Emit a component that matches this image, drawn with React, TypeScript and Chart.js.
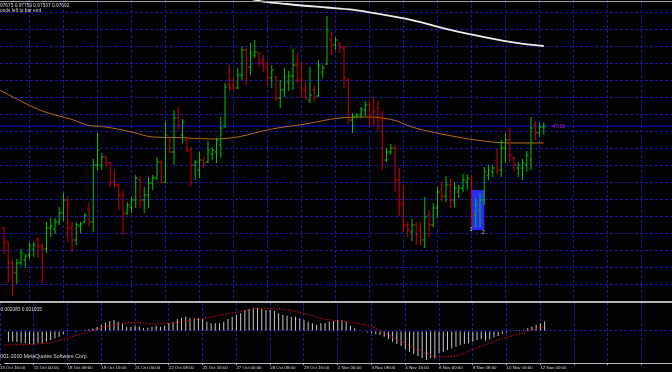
import React, { useEffect, useRef } from 'react';
import { Chart, registerables } from 'chart.js';

Chart.register(...registerables);

// ---------------- data (H4 bars, index 0 = 15 Oct 00:00) ----------------
const FIRST_BAR = -6;

const OPEN = [
  0.95894, 0.95647, 0.95276, 0.95099, 0.95276, 0.95329, 0.95417, 0.95523, 0.95682, 0.95576,
  0.95523, 0.95894, 0.95876, 0.96000, 0.96158, 0.96388, 0.95894, 0.95682, 0.95929, 0.96000,
  0.96211, 0.96000, 0.97005, 0.97005, 0.97146, 0.97040, 0.96722, 0.96652, 0.96476, 0.96158,
  0.96264, 0.96388, 0.96740, 0.96388, 0.96476, 0.96687, 0.96776, 0.97058, 0.96705, 0.97482,
  0.97235, 0.97835, 0.97535, 0.97446, 0.97270, 0.97005, 0.96917, 0.97093, 0.97058, 0.97199,
  0.97235, 0.97358, 0.97693, 0.98417, 0.98417, 0.98364, 0.98594, 0.99035, 0.98734, 0.98947,
  0.98982, 0.98858, 0.98734, 0.98541, 0.98558, 0.98188, 0.98329, 0.98470, 0.98576, 0.98770,
  0.98505, 0.98329, 0.98152, 0.98329, 0.98223, 0.98647, 0.98787, 0.99211, 0.99123, 0.99140,
  0.99070, 0.98505, 0.97799, 0.97852, 0.97888, 0.97976, 0.98064, 0.97976, 0.98011, 0.97835,
  0.97093, 0.97235, 0.97305, 0.96740, 0.96300, 0.95947, 0.95823, 0.95947, 0.95858, 0.95682,
  0.96123, 0.95947, 0.96247, 0.96564, 0.96458, 0.96652, 0.96388, 0.96529, 0.96599, 0.96705,
  0.96740, 0.96123, 0.96211, 0.96388, 0.96829, 0.96882, 0.97093, 0.96917, 0.97305, 0.97446,
  0.97129, 0.96952, 0.96952, 0.97005, 0.97093, 0.97711, 0.97570, 0.97675,
];
const HIGH = [
  0.95911, 0.95647, 0.95329, 0.95346, 0.95523, 0.95434, 0.95647, 0.95647, 0.95734, 0.95629,
  0.96000, 0.96070, 0.96070, 0.96264, 0.96511, 0.96458, 0.96000, 0.96000, 0.96000, 0.96158,
  0.96335, 0.97111, 0.97570, 0.97217, 0.97182, 0.97058, 0.96917, 0.96687, 0.96546, 0.96353,
  0.96440, 0.96829, 0.96811, 0.96616, 0.96793, 0.96829, 0.97146, 0.97093, 0.97764, 0.97499,
  0.97976, 0.98028, 0.97817, 0.97499, 0.97322, 0.97093, 0.97235, 0.97146, 0.97428, 0.97322,
  0.97482, 0.97852, 0.98452, 0.98770, 0.98558, 0.98717, 0.99087, 0.99070, 0.99158, 0.99211,
  0.99000, 0.98947, 0.98858, 0.98770, 0.98576, 0.98505, 0.98717, 0.98664, 0.99052, 0.98982,
  0.98823, 0.98470, 0.98734, 0.98417, 0.98858, 0.98770, 0.99635, 0.99353, 0.99264, 0.99176,
  0.99105, 0.98541, 0.97923, 0.97923, 0.98028, 0.98134, 0.98152, 0.98205, 0.98134, 0.97958,
  0.97305, 0.97375, 0.97358, 0.96952, 0.96652, 0.96000, 0.96052, 0.96000, 0.96000, 0.96440,
  0.96211, 0.96335, 0.96616, 0.96705, 0.96811, 0.96758, 0.96705, 0.96652, 0.96846, 0.96846,
  0.96829, 0.96423, 0.96511, 0.96969, 0.97005, 0.97005, 0.97287, 0.97446, 0.97570, 0.97658,
  0.97146, 0.97058, 0.97111, 0.97252, 0.97852, 0.97781, 0.97746, 0.97759,
];
const LOW = [
  0.95434, 0.94923, 0.94693, 0.94905, 0.95223, 0.95188, 0.95346, 0.95381, 0.95364, 0.94923,
  0.95452, 0.95734, 0.95787, 0.95947, 0.96017, 0.95647, 0.95470, 0.95594, 0.95805, 0.95982,
  0.95911, 0.95823, 0.96917, 0.96917, 0.96969, 0.96616, 0.96616, 0.96211, 0.95770, 0.96123,
  0.96158, 0.96247, 0.96247, 0.96158, 0.96247, 0.96564, 0.96740, 0.96687, 0.96687, 0.97217,
  0.97005, 0.97623, 0.97393, 0.97235, 0.96634, 0.96740, 0.96776, 0.96952, 0.97040, 0.97093,
  0.97040, 0.97129, 0.97658, 0.98294, 0.98329, 0.98346, 0.98505, 0.98417, 0.98594, 0.98894,
  0.98734, 0.98647, 0.98417, 0.98364, 0.98134, 0.98011, 0.98205, 0.98311, 0.98329, 0.98452,
  0.98188, 0.98152, 0.98099, 0.98117, 0.98205, 0.98541, 0.98770, 0.98947, 0.99035, 0.98982,
  0.98364, 0.97728, 0.97570, 0.97835, 0.97835, 0.97870, 0.97693, 0.97675, 0.97605, 0.96917,
  0.97058, 0.97182, 0.96529, 0.96105, 0.95823, 0.95734, 0.95664, 0.95594, 0.95594, 0.95541,
  0.95734, 0.95911, 0.96070, 0.96353, 0.96353, 0.96247, 0.96264, 0.96423, 0.96529, 0.96564,
  0.95894, 0.95911, 0.95911, 0.96300, 0.96740, 0.96793, 0.96829, 0.96793, 0.97040, 0.97058,
  0.96899, 0.96793, 0.96740, 0.96882, 0.96917, 0.97446, 0.97499, 0.97537,
];
const CLOSE = [
  0.95647, 0.95276, 0.95099, 0.95276, 0.95452, 0.95399, 0.95576, 0.95594, 0.95558, 0.95523,
  0.95894, 0.95929, 0.96000, 0.96158, 0.96388, 0.95894, 0.95682, 0.95947, 0.95964, 0.96123,
  0.96000, 0.97005, 0.97270, 0.97146, 0.97040, 0.96687, 0.96652, 0.96476, 0.96158, 0.96300,
  0.96388, 0.96776, 0.96388, 0.96476, 0.96687, 0.96776, 0.97058, 0.96705, 0.97535, 0.97235,
  0.97835, 0.97711, 0.97764, 0.97270, 0.97005, 0.97058, 0.97093, 0.97040, 0.97270, 0.97270,
  0.97446, 0.97658, 0.98381, 0.98364, 0.98364, 0.98594, 0.99035, 0.98734, 0.98982, 0.99000,
  0.98805, 0.98734, 0.98558, 0.98682, 0.98188, 0.98329, 0.98558, 0.98576, 0.98770, 0.98505,
  0.98329, 0.98188, 0.98241, 0.98205, 0.98770, 0.98717, 0.99388, 0.99123, 0.99211, 0.99087,
  0.98541, 0.97799, 0.97852, 0.97888, 0.97993, 0.98064, 0.97888, 0.97941, 0.97799, 0.97093,
  0.97235, 0.97305, 0.96740, 0.96300, 0.95947, 0.95858, 0.95947, 0.95770, 0.95682, 0.96087,
  0.95947, 0.96247, 0.96529, 0.96458, 0.96652, 0.96388, 0.96599, 0.96599, 0.96740, 0.96776,
  0.96123, 0.96300, 0.96388, 0.96882, 0.96917, 0.96952, 0.96917, 0.97305, 0.97446, 0.97182,
  0.97005, 0.97005, 0.97040, 0.97182, 0.97658, 0.97570, 0.97675, 0.97692,
];

// MACD main (histogram) per bar
const MACD_MAIN = [
  -0.00240, -0.00235, -0.00246, -0.00269, -0.00269, -0.00297, -0.00291, -0.00275, -0.00275, -0.00240,
  -0.00202, -0.00164, -0.00129, -0.00075, -0.00024, -0.00013, -0.00002, 0.00009, 0.00020, 0.00031,
  0.00053, 0.00087, 0.00131, 0.00182, 0.00220, 0.00242, 0.00204, 0.00147, 0.00093, 0.00093,
  0.00115, 0.00093, 0.00058, 0.00071, 0.00093, 0.00115, 0.00093, 0.00115, 0.00169, 0.00204,
  0.00264, 0.00293, 0.00315, 0.00293, 0.00280, 0.00280, 0.00264, 0.00204, 0.00169, 0.00169,
  0.00169, 0.00204, 0.00264, 0.00315, 0.00353, 0.00391, 0.00464, 0.00486, 0.00515, 0.00502,
  0.00486, 0.00464, 0.00464, 0.00442, 0.00391, 0.00353, 0.00337, 0.00315, 0.00315, 0.00280,
  0.00242, 0.00204, 0.00169, 0.00131, 0.00169, 0.00169, 0.00204, 0.00220, 0.00242, 0.00242,
  0.00204, 0.00115, 0.00058, 0.00009, -0.00009, -0.00036, -0.00053, -0.00069, -0.00091, -0.00129,
  -0.00186, -0.00240, -0.00291, -0.00335, -0.00408, -0.00462, -0.00513, -0.00557, -0.00608, -0.00646,
  -0.00608, -0.00608, -0.00497, -0.00462, -0.00424, -0.00386, -0.00351, -0.00313, -0.00291, -0.00275,
  -0.00240, -0.00202, -0.00186, -0.00218, -0.00186, -0.00142, -0.00113, -0.00069, -0.00040, -0.00018,
  0.00004, 0.00020, 0.00027, 0.00058, 0.00093, 0.00131, 0.00169, 0.002083,
];
// MACD signal line, read at sample bars
const SIGNAL_IDX = [-7, 1, 5, 9, 13, 17, 21, 24, 28, 32, 36, 40, 44, 48, 52, 56, 60, 64, 68, 72, 76, 80, 84, 88, 92, 96, 100, 104, 108, 112, 116, 119, 121];
const SIGNAL_VAL = [
  -0.00313, -0.00291, -0.00240, -0.00129, -0.00018, 0.00093, 0.00169, 0.00191, 0.00153, 0.00169,
  0.00220, 0.00270, 0.00346, 0.00413, 0.00486, 0.00502, 0.00464, 0.00391, 0.00280, 0.00226,
  0.00182, 0.00093, -0.00091, -0.00275, -0.00462, -0.00573, -0.00557, -0.00408, -0.00275, -0.00142,
  -0.00040, 0.00050, 0.001005,
];

// moving averages, read at sample bars
const MA_FAST_IDX = [-7, -3, 3, 10, 14, 17, 24, 29, 34, 43, 49, 53, 57, 65, 73, 80, 86, 90, 97, 105, 113, 121];
const MA_FAST_VAL = [
  0.98329, 0.98170, 0.97958, 0.97808, 0.97702, 0.97685, 0.97588, 0.97499, 0.97491, 0.97464,
  0.97499, 0.97570, 0.97641, 0.97729, 0.97835, 0.97852, 0.97791, 0.97676, 0.97552, 0.97447,
  0.97394, 0.97394,
];
const MA_SLOW_IDX = [48, 55, 59, 64, 70, 76, 80, 90, 99, 107, 115, 121];
const MA_SLOW_VAL = [1.00023, 0.99887, 0.99859, 0.99820, 0.99785, 0.99746, 0.99700, 0.99564, 0.99388, 0.99261, 0.99155, 0.99105];

const TIME_TICKS = [-8, 0, 8, 16, 24, 32, 40, 48, 56, 64, 72, 80, 88, 96, 104, 112, 120, 128, 136, 144];
const TIME_LABELS = [
  '13 Oct 16:00', '15 Oct 00:00', '18 Oct 08:00', '19 Oct 16:00', '21 Oct 00:00', '22 Oct 08:00',
  '25 Oct 16:00', '27 Oct 00:00', '28 Oct 08:00', '29 Oct 16:00', '2 Nov 00:00', '3 Nov 08:00',
  '4 Nov 16:00', '8 Nov 00:00', '9 Nov 08:00', '10 Nov 16:00', '12 Nov 00:00',
];
const PRICE_GRID = [0.997, 0.994, 0.991, 0.988, 0.985, 0.982, 0.979, 0.976, 0.973, 0.970, 0.967, 0.964, 0.961, 0.958, 0.955, 0.952, 0.949];
const MACD_GRID = [0];

const ZONE_IDX = [104, 107];
const ZONE_PRICE = [0.96564, 0.95858];
const ZONE_TAGS = ['1', '2'];
const COUNTDOWN = '47:16';
const COUNTDOWN_IDX = 123;
const TIMER_CAPTION = 'Seconds left to bar end';
const COPYRIGHT = '2001-2010 MetaQuotes Software Corp.';

// ---------------- view ----------------
const X_MIN = -6.94118;
const X_MAX = 151.17647;
const P_MAX = 0.999171;
const P_MIN = 0.946053;
const M_MAX = 0.0062;
const M_MIN = -0.00713;

const BG = '#020205';
const GRID = '#1818a0';
const UP = '#00c400';
const DOWN = '#d00000';
const FONT = '"Liberation Sans", Arial, sans-serif';
const TEXT = '#d8d8d8';
const AXIS_GRAY = '#b4b4b4';

export default function App() {
  const mainRef = useRef<HTMLCanvasElement | null>(null);
  const subRef = useRef<HTMLCanvasElement | null>(null);

  useEffect(() => {
    document.body.style.margin = '0';
    document.body.style.background = BG;
    const last = CLOSE.length - 1;
    const barIdx = (i: number) => FIRST_BAR + i;
    const colors = CLOSE.map((c, i) => (c >= OPEN[i] ? UP : DOWN));
    const pxPerBar = 672 / (X_MAX - X_MIN);
    const tickShift = 1 / pxPerBar;

    const zonePlugin = {
      id: 'zone',
      beforeDatasetsDraw(chart: any) {
        const { ctx, scales } = chart;
        const x0 = scales.x.getPixelForValue(ZONE_IDX[0]);
        const x1 = scales.x.getPixelForValue(ZONE_IDX[1]);
        const y0 = scales.y.getPixelForValue(ZONE_PRICE[0]);
        const y1 = scales.y.getPixelForValue(ZONE_PRICE[1]);
        ctx.save();
        ctx.fillStyle = '#2a2aff';
        ctx.fillRect(x0, y0, x1 - x0, y1 - y0);
        ctx.restore();
      },
    };

    const mainText = {
      id: 'mainText',
      afterDraw(chart: any) {
        const { ctx, scales } = chart;
        ctx.save();
        ctx.textBaseline = 'middle';
        ctx.textAlign = 'left';
        ctx.fillStyle = TEXT;
        ctx.font = `4.8px ${FONT}`;
        const head = [OPEN[last], HIGH[last], LOW[last], CLOSE[last]].map((v) => v.toFixed(5)).join(' ');
        ctx.fillText(head, -ctx.measureText('0.').width, 5.3);
        ctx.fillText(TIMER_CAPTION, -ctx.measureText('Sec').width, 10.9);
        ctx.font = `5.2px ${FONT}`;
        ctx.fillStyle = '#c020c0';
        ctx.fillText(COUNTDOWN, scales.x.getPixelForValue(COUNTDOWN_IDX), scales.y.getPixelForValue(CLOSE[last]));
        ctx.font = `5.5px ${FONT}`;
        ctx.fillStyle = '#c8c8c8';
        ctx.textAlign = 'center';
        const yb = scales.y.getPixelForValue(ZONE_PRICE[1]);
        ctx.fillText(ZONE_TAGS[0], scales.x.getPixelForValue(ZONE_IDX[0]) - 0.5, yb - 1);
        ctx.fillText(ZONE_TAGS[1], scales.x.getPixelForValue(ZONE_IDX[1]) - 1, yb + 2.5);
        ctx.restore();
      },
    };

    const subText = {
      id: 'subText',
      afterDraw(chart: any) {
        const { ctx } = chart;
        ctx.save();
        ctx.textBaseline = 'middle';
        ctx.textAlign = 'left';
        ctx.fillStyle = TEXT;
        ctx.font = `4.8px ${FONT}`;
        ctx.fillText(`${MACD_MAIN[last].toFixed(6)} ${SIGNAL_VAL[SIGNAL_VAL.length - 1].toFixed(6)}`, 0.5, 6.3);
        ctx.font = `5.2px ${FONT}`;
        ctx.fillText(COPYRIGHT, -ctx.measureText('2').width + 0.3, 53.3);
        ctx.restore();
      },
    };

    const hiddenAxis = (min: number, max: number, grid: number[], horiz: boolean) => ({
      type: 'linear',
      min,
      max,
      offset: false,
      afterBuildTicks: (s: any) => {
        s.ticks = grid.map((v) => ({ value: v }));
      },
      afterFit: (s: any) => {
        if (horiz) s.height = 0;
        else s.width = 0;
      },
      ticks: { display: false },
      grid: { color: GRID, lineWidth: 1, drawTicks: false, offset: false },
      border: { display: false, dash: [3, 2] },
    });

    const main = new Chart(mainRef.current as HTMLCanvasElement, {
      type: 'bar',
      data: {
        datasets: [
          {
            type: 'bar',
            data: OPEN.map((_, i) => ({ x: barIdx(i), y: [LOW[i], HIGH[i]] })),
            backgroundColor: colors,
            borderWidth: 0,
            barThickness: 1,
            inflateAmount: 0,
            grouped: false,
            order: 1,
          } as any,
          {
            type: 'scatter',
            data: OPEN.map((o, i) => ({ x: barIdx(i) - tickShift, y: o })),
            pointStyle: 'line',
            pointRadius: 1,
            pointBorderWidth: 1,
            pointBorderColor: colors,
            order: 0,
          } as any,
          {
            type: 'scatter',
            data: CLOSE.map((c, i) => ({ x: barIdx(i) + tickShift, y: c })),
            pointStyle: 'line',
            pointRadius: 1,
            pointBorderWidth: 1,
            pointBorderColor: colors,
            order: 0,
          } as any,
          {
            type: 'line',
            data: MA_SLOW_IDX.map((x, i) => ({ x, y: MA_SLOW_VAL[i] })),
            borderColor: '#ececec',
            borderWidth: 1.8,
            pointRadius: 0,
            cubicInterpolationMode: 'monotone',
            order: 3,
          } as any,
          {
            type: 'line',
            data: MA_FAST_IDX.map((x, i) => ({ x, y: MA_FAST_VAL[i] })),
            borderColor: '#b06c12',
            borderWidth: 1,
            pointRadius: 0,
            cubicInterpolationMode: 'monotone',
            order: 3,
          } as any,
          {
            type: 'line',
            data: [
              { x: X_MIN, y: CLOSE[last] },
              { x: X_MAX, y: CLOSE[last] },
            ],
            borderColor: '#0c0cd0',
            borderWidth: 1,
            pointRadius: 0,
            order: 4,
          } as any,
        ],
      },
      options: {
        animation: false,
        responsive: false,
        devicePixelRatio: 1,
        events: [],
        layout: { padding: 0, autoPadding: false },
        plugins: { legend: { display: false }, tooltip: { enabled: false } },
        scales: {
          x: hiddenAxis(X_MIN, X_MAX, TIME_TICKS, true),
          y: hiddenAxis(P_MIN, P_MAX, PRICE_GRID, false),
        } as any,
      },
      plugins: [zonePlugin, mainText],
    });

    const sub = new Chart(subRef.current as HTMLCanvasElement, {
      type: 'bar',
      data: {
        datasets: [
          {
            type: 'bar',
            data: MACD_MAIN.map((v, i) => ({ x: barIdx(i), y: v })),
            backgroundColor: '#c6c6c6',
            borderWidth: 0,
            barThickness: 1,
            inflateAmount: 0,
            grouped: false,
            order: 1,
          } as any,
          {
            type: 'line',
            data: SIGNAL_IDX.map((x, i) => ({ x, y: SIGNAL_VAL[i] })),
            borderColor: '#d01010',
            borderWidth: 1,
            borderDash: [1.5, 1.5],
            pointRadius: 0,
            cubicInterpolationMode: 'monotone',
            order: 0,
          } as any,
        ],
      },
      options: {
        animation: false,
        responsive: false,
        devicePixelRatio: 1,
        events: [],
        layout: { padding: 0, autoPadding: false },
        plugins: { legend: { display: false }, tooltip: { enabled: false } },
        scales: {
          x: {
            type: 'linear',
            min: X_MIN,
            max: X_MAX,
            offset: false,
            afterBuildTicks: (s: any) => {
              s.ticks = TIME_TICKS.map((v) => ({ value: v }));
            },
            afterFit: (s: any) => {
              s.height = 9;
            },
            ticks: {
              display: true,
              autoSkip: false,
              maxRotation: 0,
              minRotation: 0,
              align: 'start',
              padding: 0,
              color: TEXT,
              font: { family: FONT, size: 4.4 },
              callback: (v: any) => {
                const k = TIME_TICKS.indexOf(Number(v));
                return k >= 0 && k < TIME_LABELS.length ? TIME_LABELS[k] : '';
              },
            },
            grid: {
              color: GRID,
              lineWidth: 1,
              drawTicks: true,
              tickLength: 2,
              tickColor: AXIS_GRAY,
              tickBorderDash: [],
              offset: false,
            },
            border: { display: true, color: AXIS_GRAY, width: 1, dash: [3, 2] },
          },
          y: hiddenAxis(M_MIN, M_MAX, MACD_GRID, false),
        } as any,
      },
      plugins: [subText],
    });

    return () => {
      main.destroy();
      sub.destroy();
    };
  }, []);

  return (
    <div style={{ position: 'absolute', left: 0, top: 0, width: 672, height: 372, background: BG, overflow: 'hidden' }}>
      <canvas ref={mainRef} width={672} height={301} style={{ position: 'absolute', left: 0, top: 0 }} />
      <div style={{ position: 'absolute', left: 0, top: 1, width: 672, height: 1, background: '#9c9c9c' }} />
      <div style={{ position: 'absolute', left: 0, top: 301, width: 672, height: 2, background: AXIS_GRAY }} />
      <canvas ref={subRef} width={672} height={69} style={{ position: 'absolute', left: 0, top: 303 }} />
    </div>
  );
}
